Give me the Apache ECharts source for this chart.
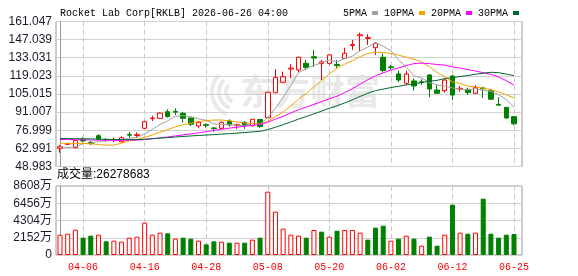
<!DOCTYPE html>
<html><head><meta charset="utf-8">
<script src="https://cdn.jsdelivr.net/npm/echarts@6/dist/echarts.min.js"></script>
<style>html,body{margin:0;padding:0;background:#fff}#c{width:578px;height:276px}</style>
</head><body><div id="c"></div>
<script>
const dates = ['03-31','04-01','04-02','04-06','04-07','04-08','04-09','04-10','04-13','04-14',
'04-15','04-16','04-17','04-20','04-21','04-22','04-23','04-24','04-27','04-28',
'04-29','04-30','05-01','05-04','05-05','05-06','05-07','05-08','05-11','05-12',
'05-13','05-14','05-15','05-18','05-19','05-20','05-21','05-22','05-26','05-27',
'05-28','05-29','06-01','06-02','06-03','06-04','06-05','06-08','06-09','06-10',
'06-11','06-12','06-15','06-16','06-17','06-18','06-22','06-23','06-24','06-25'];
const openP = [63.1,66.1,63.5,69.6,67.7,72.8,69.8,69.3,68.1,73.8,
73.0,78.5,85.9,86.2,91.3,91.6,90.1,86.5,80.3,81.3,
78.8,78.5,84.1,80.9,83.1,80.5,85.3,86.7,106.0,114.1,
124.3,123.6,128.7,133.8,128.5,128.7,127.8,132.6,142.5,150.0,
148.0,140.8,133.4,126.0,120.5,113.3,115.1,114.4,119.7,108.1,
107.6,118.9,108.8,108.6,105.5,109.6,107.6,97.0,94.7,87.5];
const closeP = [64.3,66.6,69.0,68.8,66.8,70.3,69.4,69.8,71.2,73.2,
73.6,83.6,86.4,90.3,87.6,91.0,86.2,81.7,83.1,80.8,
78.3,83.1,81.1,81.3,80.6,85.5,79.9,106.3,117.9,118.4,
125.0,133.4,125.4,132.8,129.8,135.2,127.0,136.5,143.2,150.8,
148.6,144.2,123.2,125.4,115.8,120.5,111.2,113.8,108.9,105.6,
115.8,104.2,109.4,106.1,109.9,109.0,101.0,96.4,86.5,82.0];
const lowP = [59.6,65.8,63.0,67.7,65.5,69.5,68.3,67.8,67.7,71.3,
70.9,77.9,84.1,85.8,86.7,88.8,82.8,80.3,78.5,79.0,
75.9,78.0,79.8,78.0,78.0,80.0,78.6,86.3,105.5,113.5,
117.2,122.0,123.6,126.0,115.8,127.5,124.9,132.0,139.0,138.0,
142.9,135.2,121.5,123.8,114.3,112.0,107.6,112.0,102.5,105.0,
106.0,100.4,106.8,104.2,105.0,102.0,100.5,96.2,85.7,81.0];
const highP = [65.6,67.2,69.4,71.5,68.7,74.0,70.8,71.2,72.5,75.8,
75.4,84.5,88.3,90.8,93.2,94.0,91.3,86.9,84.1,82.4,
79.3,83.8,85.5,82.2,84.1,85.8,85.8,106.8,124.3,122.3,
128.2,134.0,131.3,139.0,131.2,135.8,131.3,140.8,146.8,152.5,
151.2,144.8,136.5,127.4,123.0,123.0,117.1,116.4,120.5,112.0,
117.1,119.7,111.2,109.9,112.0,110.6,108.5,102.5,95.0,87.8];
const volume = [25360000,26610000,31600000,21620000,24120000,25360000,17050000,17880000,16630000,21620000,
22870000,40330000,25360000,27860000,27030000,20370000,21620000,20370000,17880000,13310000,
17050000,16630000,15380000,15380000,15380000,19130000,21620000,79000000,54050000,32850000,
25360000,24120000,21620000,31190000,29110000,22870000,30350000,31190000,31190000,27860000,
19130000,34100000,36590000,17880000,20370000,24120000,20370000,11640000,22870000,11640000,
25360000,62790000,27860000,26610000,27860000,70270000,26610000,21620000,25360000,26278683];
const ma5 = [64.3,63.6,64.3,66.6,67.1,68.3,68.9,69.0,69.5,70.8,
71.4,74.3,77.6,81.4,84.3,87.8,88.3,87.4,85.9,84.6,
82.0,81.4,81.3,80.9,80.9,82.3,81.7,86.7,94.0,102.5,
111.5,121.5,124.8,127.0,129.3,131.3,130.0,132.3,134.3,138.5,
141.2,144.7,142.0,138.4,131.4,125.8,119.2,117.3,114.0,112.0,
111.1,109.7,108.8,108.2,109.1,107.7,107.1,104.5,100.6,95.0];
const ma10 = [66.9,66.9,66.9,66.8,66.5,66.0,65.5,65.5,67.0,68.8,
69.9,71.6,73.3,75.5,77.5,79.6,81.3,82.5,83.7,84.4,
84.9,84.9,84.3,83.4,82.7,82.2,81.5,84.0,87.5,91.2,
95.9,100.9,105.4,110.5,115.4,120.4,125.1,128.1,130.7,133.9,
136.3,137.4,137.1,136.4,135.0,133.5,131.9,129.7,126.2,121.7,
118.4,114.4,113.1,111.1,110.5,109.4,108.4,106.6,104.4,102.0];
const ma20 = [69.8,69.8,69.7,69.6,69.5,69.4,69.3,69.2,69.2,69.3,
69.4,69.8,70.4,71.1,71.8,72.6,73.4,74.2,75.0,75.9,
76.9,77.8,78.6,79.4,80.1,80.9,81.4,83.2,85.6,87.8,
90.4,92.9,94.8,97.0,99.1,101.3,103.3,106.1,109.1,112.6,
116.1,119.1,121.3,123.5,125.2,127.0,128.5,128.9,128.5,127.8,
127.4,125.9,125.1,123.8,122.8,121.5,120.2,118.2,115.3,111.9];
const ma30 = [70.6,70.6,70.5,70.4,70.3,70.1,70.0,69.9,69.8,69.8,
69.8,70.1,70.5,70.9,71.3,71.8,72.2,72.6,73.0,73.3,
73.6,74.0,74.4,74.8,75.2,75.7,76.2,77.5,79.3,81.3,
83.4,85.6,87.6,89.7,91.8,94.0,95.9,98.1,100.5,103.1,
105.6,107.6,108.8,110.0,111.0,112.0,112.9,113.9,114.8,115.6,
116.9,117.6,118.5,119.3,120.3,121.1,121.8,121.5,120.4,119.2];
const priceTicks = [48.983,62.991,76.999,91.007,105.015,119.023,133.031,147.039,161.047];
const volumeTicks = [0,21520000,43040000,64560000,86080000];
const dateTickIndex = [3,11,19,27,35,43,51,59];
const titleText = 'Rocket Lab Corp[RKLB] 2026-06-26 04:00';
const volumeText = '成交量:26278683';
const watermarkText = '东方财富';
const maNames = ['5PMA','10PMA','20PMA','30PMA'];

const RED = '#ff0000', GREEN = '#008000';
const MONO = 'Liberation Mono';
const WM = '#e9e9e9';
const chart = echarts.init(document.getElementById('c'), null, {renderer: 'canvas'});
const candleData = dates.map((d, i) => [i, openP[i], closeP[i], lowP[i], highP[i]]);
const volData = volume.map((v, i) => {
  const up = i === 0 || closeP[i] >= closeP[i - 1];
  return {value: [i, v], itemStyle: up ? {color: '#ffffff', borderColor: RED, borderWidth: 1} : {color: GREEN, borderColor: GREEN, borderWidth: 1}};
});
const maColors = ['#a0a0a0', '#f4a300', '#ff00ff', '#006b2e'];
const maData = [ma5, ma10, ma20, ma30];
const maSeries = maNames.map((n, k) => ({
  name: n, type: 'line', xAxisIndex: 0, yAxisIndex: 0,
  data: maData[k].map((v, i) => [i, v]), symbol: 'none', showSymbol: false,
  lineStyle: {width: 1, color: maColors[k]}, itemStyle: {color: maColors[k]}, z: 3, silent: true
}));
const xCommon = (idx, showLabel) => ({
  type: 'value', gridIndex: idx, min: -0.52, max: 60.04,
  axisLine: {show: false}, axisTick: {show: false, customValues: dateTickIndex},
  axisLabel: {show: showLabel, customValues: dateTickIndex, formatter: v => dates[Math.round(v)] || '',
    color: RED, fontFamily: MONO, fontSize: 10, margin: 7},
  splitLine: {show: true, lineStyle: {color: '#c8c8c8', type: [5, 3], width: 1}}
});
const logoArcs = [10, 17, 24].map(r => ({
  type: 'arc', z: -10, silent: true,
  shape: {cx: 236, cy: 92, r: r, startAngle: Math.PI * 0.62, endAngle: Math.PI * 1.25},
  style: {stroke: WM, lineWidth: 4, fill: null}
}));
chart.setOption({
  animation: false,
  backgroundColor: '#ffffff',
  title: {text: titleText, left: 55, top: 3, textStyle: {fontFamily: MONO, fontSize: 10, fontWeight: 'normal', color: '#000'}},
  legend: {data: maNames, left: 338, top: 3, align: 'right', icon: 'rect', itemWidth: 6, itemHeight: 4, itemGap: 6,
    selectedMode: false, textStyle: {fontFamily: MONO, fontSize: 10, color: '#000'}},
  graphic: [
    ...logoArcs,
    {type: 'text', left: 240, top: 74, z: -10, silent: true,
      style: {text: watermarkText, fill: WM, font: 'bold 35px "Noto Sans CJK SC"'}},
    {type: 'text', left: 57, top: 169, silent: true,
      style: {text: volumeText, fill: '#000', font: '12px "Liberation Sans", "Noto Sans CJK SC"'}}
  ],
  grid: [
    {left: 56, width: 466, top: 21.5, height: 145, show: true, borderColor: '#999', borderWidth: 1},
    {left: 56, width: 466, top: 186, height: 69, show: true, borderColor: '#999', borderWidth: 1}
  ],
  xAxis: [xCommon(0, false), xCommon(1, true)],
  yAxis: [
    {type: 'value', gridIndex: 0, min: 48.983, max: 161.047,
      axisLine: {show: true, lineStyle: {color: '#999'}}, axisTick: {show: false, customValues: priceTicks},
      axisLabel: {customValues: priceTicks, formatter: v => v.toFixed(3), color: '#1a1a2a', fontFamily: 'Liberation Sans', fontSize: 12, margin: 4},
      splitLine: {show: true, lineStyle: {color: '#d2d2d2', width: 1}}},
    {type: 'value', gridIndex: 1, min: volumeTicks[0], max: volumeTicks[volumeTicks.length - 1], interval: volumeTicks[1],
      axisLine: {show: true, lineStyle: {color: '#999'}}, axisTick: {show: false},
      axisLabel: {formatter: v => v === 0 ? '0' : Math.round(v / 10000) + '万', color: '#1a1a2a',
        fontFamily: 'Liberation Sans, "Noto Sans CJK SC"', fontSize: 12, margin: 4},
      splitLine: {show: true, lineStyle: {color: '#d2d2d2', width: 1}}}
  ],
  series: [
    {type: 'candlestick', xAxisIndex: 0, yAxisIndex: 0, data: candleData, barWidth: 5, z: 2,
      itemStyle: {color: '#ffffff', color0: GREEN, borderColor: RED, borderColor0: GREEN, borderWidth: 1}},
    ...maSeries,
    {type: 'bar', xAxisIndex: 1, yAxisIndex: 1, data: volData, barWidth: 5}
  ]
});
</script></body></html>
